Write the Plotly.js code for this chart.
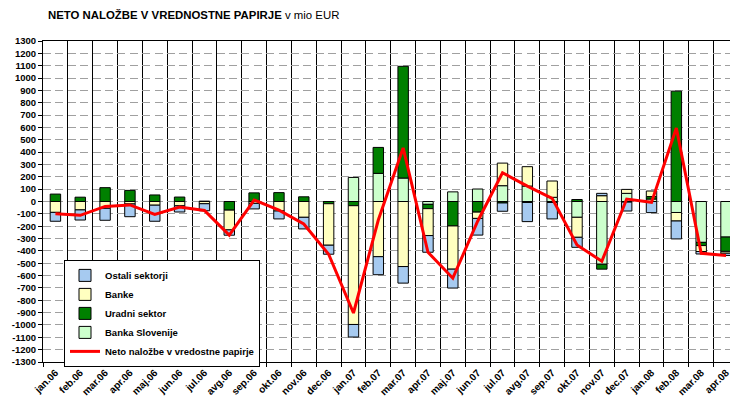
<!DOCTYPE html>
<html><head><meta charset="utf-8">
<script src="https://cdn.plot.ly/plotly-3.0.1.min.js"></script>
<style>html,body{margin:0;padding:0;background:#fff}#chart{width:730px;height:405px}</style>
</head><body><div id="chart"></div><script>
const months = ['jan.06','feb.06','mar.06','apr.06','maj.06','jun.06','jul.06','avg.06','sep.06','okt.06','nov.06','dec.06',
  'jan.07','feb.07','mar.07','apr.07','maj.07','jun.07','jul.07','avg.07','sep.07','okt.07','nov.07','dec.07',
  'jan.08','feb.08','mar.08','apr.08'];

const bankaSlovenije = [0,0,0,0,0,0,0,0,0,0,0,0,
  195,228,190,-23,78,101,128,125,34,-128,-508,66,
  20,-89,-331,-288];
const uradniSektor = [60,35,112,90,53,36,3,-70,70,72,38,-18,
  -34,210,905,-35,-198,-86,-12,-8,-8,16,-40,-5,
  20,894,-26,-116];
const banke = [-88,-68,-55,-20,-30,-35,-18,-160,-15,-77,-128,-336,
  -962,-447,-527,-218,-350,-51,183,157,132,-162,47,32,
  45,-69,-48,-15];
const ostaliSektorji = [-72,-82,-97,-103,-130,-50,-57,-43,-45,-64,-94,-73,
  -102,-146,-134,-135,-153,-135,-67,-155,-133,-81,19,-72,
  -90,-145,-20,-18];
const netoNalozbe = [-100,-112,-40,-28,-105,-45,-72,-272,12,-70,-182,-427,
  -903,-150,434,-411,-621,-160,233,125,26,-352,-484,20,
  -7,595,-420,-437];

const yTicks = [-1300,-1200,-1100,-1000,-900,-800,-700,-600,-500,-400,-300,-200,-100,0,
  100,200,300,400,500,600,700,800,900,1000,1100,1200,1300];
const yTickLabels = yTicks.map(v => String(v));

const seriesNames = ['Banka Slovenije','Uradni sektor','Banke','Ostali sektorji'];
const seriesColors = ['#ccffcc','#008000','#ffffc0','#a6caf0'];
const seriesRanks = [4,3,2,1];
const seriesData = [bankaSlovenije, uradniSektor, banke, ostaliSektorji];

const font = 'Liberation Sans, Arial, sans-serif';
const traces = seriesData.map((d,i) => ({
  type:'bar', x: months, y: d, name: seriesNames[i], legendrank: seriesRanks[i],
  marker:{color: seriesColors[i], line:{color:'#000000', width:1}}
}));
traces.push({
  type:'scatter', mode:'lines', x: months, y: netoNalozbe, name:'Neto naložbe v vredostne papirje',
  legendrank: 5, line:{color:'#ff0000', width:3}
});

const layout = {
  width:730, height:405,
  margin:{l:43, r:0, t:41, b:43},
  paper_bgcolor:'#ffffff', plot_bgcolor:'#ffffff',
  barmode:'relative', bargap:0.58,
  showlegend:true,
  font:{family:font, size:10, color:'#000'},
  title:{text:'<b>NETO NALOŽBE V VREDNOSTNE PAPIRJE</b> v mio EUR', font:{family:font, size:11.4, color:'#000'},
    xref:'container', x:48/730, xanchor:'left', yref:'container', y:1-15/405, yanchor:'middle'},
  xaxis:{type:'category', range:[-0.5, 27.16], tickson:'boundaries', showgrid:true, gridcolor:'#000000', gridwidth:1,
    showline:true, linecolor:'#000', linewidth:1, mirror:true, ticks:'outside', ticklen:4, tickcolor:'#000',
    tickangle:-45, tickfont:{family:font, size:10, weight:'bold'}, automargin:false, fixedrange:true},
  yaxis:{range:[-1300,1300], tickmode:'array', tickvals:yTicks, ticktext:yTickLabels, showgrid:true,
    gridcolor:'#a0a0a0', griddash:'8px,4.4px', gridwidth:1, zeroline:false,
    showline:true, linecolor:'#000', linewidth:1, ticks:'outside', ticklen:4, tickcolor:'#000',
    tickfont:{family:font, size:9.5, weight:'bold'}, automargin:false, fixedrange:true},
  legend:{x:(64-43)/687, xanchor:'left', y:(362.3-260)/321.6, yanchor:'top', bgcolor:'#ffffff',
    bordercolor:'#000', borderwidth:1, font:{family:font, size:9.5, weight:'bold'}, tracegroupgap:0}
};
Plotly.newPlot('chart', traces, layout, {staticPlot:true, displayModeBar:false});
</script></body></html>
